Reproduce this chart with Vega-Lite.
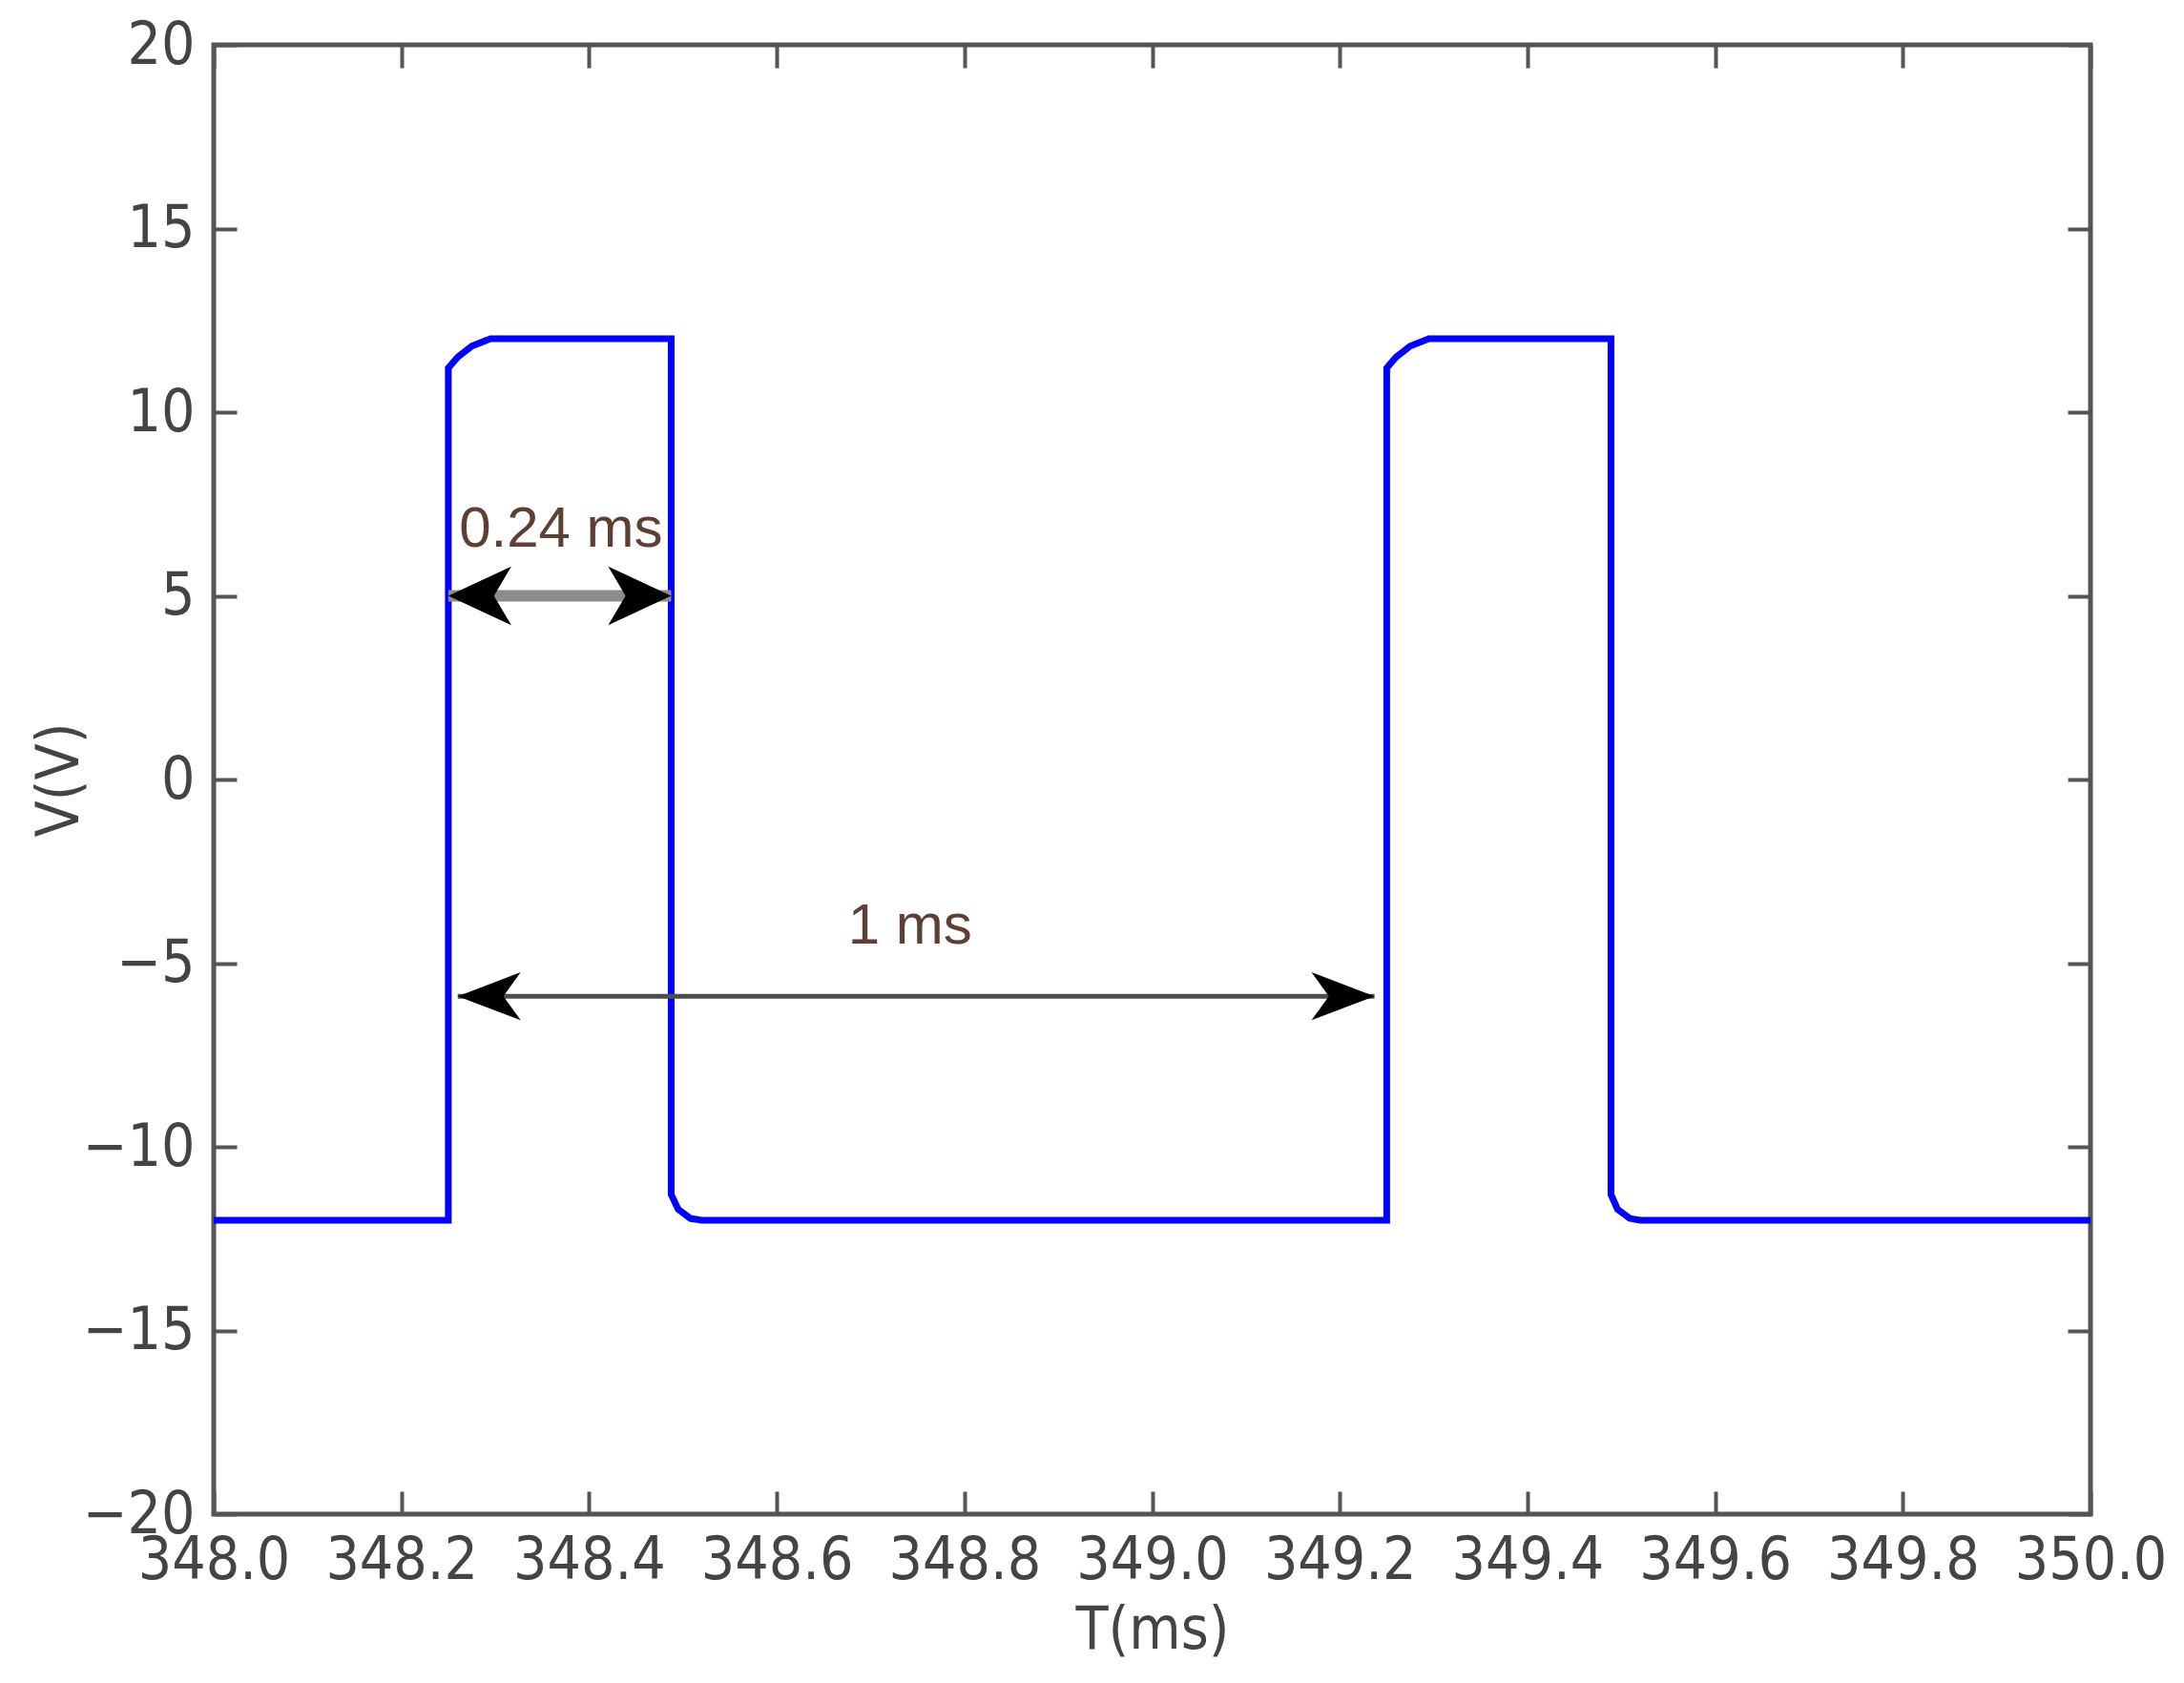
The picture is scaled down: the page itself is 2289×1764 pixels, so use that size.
{
  "$schema": "https://vega.github.io/schema/vega-lite/v6.json",
  "width": 1967,
  "height": 1540,
  "autosize": {"type": "none"},
  "padding": {"left": 224, "top": 47, "right": 98, "bottom": 177},
  "background": "white",
  "config": {
    "view": {"stroke": "#555555", "strokeWidth": 5},
    "axis": {
      "labelFont": "Liberation Sans Narrow, DejaVu Sans Condensed, Arial Narrow, sans-serif",
      "labelFontSize": 62,
      "labelColor": "#444444",
      "titleFont": "Liberation Sans Narrow, DejaVu Sans Condensed, Arial Narrow, sans-serif",
      "titleFontSize": 62,
      "titleColor": "#444444",
      "titleFontWeight": "normal",
      "domain": false,
      "grid": false,
      "tickColor": "#555555",
      "tickWidth": 4,
      "tickSize": -24,
      "labelFlush": false,
      "labelOverlap": false
    }
  },
  "datasets": {
    "wave": [
      {"i": 0, "t": 348.0, "v": -12},
      {"i": 1, "t": 348.25, "v": -12},
      {"i": 2, "t": 348.25, "v": 11.2},
      {"i": 3, "t": 348.26, "v": 11.5},
      {"i": 4, "t": 348.275, "v": 11.8},
      {"i": 5, "t": 348.295, "v": 12},
      {"i": 6, "t": 348.4875, "v": 12},
      {"i": 7, "t": 348.4875, "v": -11.3},
      {"i": 8, "t": 348.495, "v": -11.7},
      {"i": 9, "t": 348.508, "v": -11.95},
      {"i": 10, "t": 348.52, "v": -12},
      {"i": 11, "t": 349.25, "v": -12},
      {"i": 12, "t": 349.25, "v": 11.2},
      {"i": 13, "t": 349.26, "v": 11.5},
      {"i": 14, "t": 349.275, "v": 11.8},
      {"i": 15, "t": 349.295, "v": 12},
      {"i": 16, "t": 349.489, "v": 12},
      {"i": 17, "t": 349.489, "v": -11.3},
      {"i": 18, "t": 349.496, "v": -11.7},
      {"i": 19, "t": 349.509, "v": -11.95},
      {"i": 20, "t": 349.52, "v": -12},
      {"i": 21, "t": 350.0, "v": -12}
    ],
    "arrowA": [{"t1": 348.25, "t2": 348.4875, "v": 5}],
    "arrowB": [{"t1": 348.26, "t2": 349.237, "v": -5.9}],
    "heads": [
      {"t": 348.25, "v": 5, "head": "a-left"},
      {"t": 348.4875, "v": 5, "head": "a-right"},
      {"t": 348.26, "v": -5.9, "head": "b-left"},
      {"t": 349.237, "v": -5.9, "head": "b-right"}
    ],
    "notes": [
      {"t": 348.37, "v": 6.8, "label": "0.24 ms"},
      {"t": 348.742, "v": -4.0, "label": "1 ms"}
    ]
  },
  "resolve": {"axis": {"x": "independent", "y": "independent"}},
  "layer": [
    {
      "data": {"name": "wave"},
      "mark": {"type": "line", "color": "#0000ff", "strokeWidth": 7, "clip": true},
      "encoding": {
        "x": {
          "field": "t", "type": "quantitative",
          "scale": {"domain": [348, 350], "nice": false, "zero": false},
          "axis": {
            "orient": "bottom",
            "values": [348, 348.2, 348.4, 348.6, 348.8, 349, 349.2, 349.4, 349.6, 349.8, 350],
            "format": ".1f",
            "title": "T(ms)",
            "labelPadding": 42,
            "titlePadding": 12
          }
        },
        "y": {
          "field": "v", "type": "quantitative",
          "scale": {"domain": [-20, 20], "nice": false, "zero": false},
          "axis": {
            "orient": "left",
            "values": [-20, -15, -10, -5, 0, 5, 10, 15, 20],
            "format": "d",
            "title": "V(V)",
            "labelPadding": 44,
            "titleX": -162,
            "titleY": 770,
            "titleBaseline": "middle",
            "titleAlign": "center"
          }
        },
        "order": {"field": "i", "type": "quantitative"}
      }
    },
    {
      "data": {"name": "arrowA"},
      "mark": {"type": "rule", "color": "#8c8c8c", "strokeWidth": 12},
      "encoding": {
        "x": {"field": "t1", "type": "quantitative", "scale": {"domain": [348, 350], "nice": false, "zero": false}, "axis": null},
        "x2": {"field": "t2"},
        "y": {"field": "v", "type": "quantitative", "scale": {"domain": [-20, 20], "nice": false, "zero": false}, "axis": null}
      }
    },
    {
      "data": {"name": "arrowB"},
      "mark": {"type": "rule", "color": "#4d4d4d", "strokeWidth": 5},
      "encoding": {
        "x": {
          "field": "t1", "type": "quantitative",
          "scale": {"domain": [348, 350], "nice": false, "zero": false},
          "axis": {
            "orient": "top",
            "values": [348, 348.2, 348.4, 348.6, 348.8, 349, 349.2, 349.4, 349.6, 349.8, 350],
            "labels": false,
            "title": null
          }
        },
        "x2": {"field": "t2"},
        "y": {
          "field": "v", "type": "quantitative",
          "scale": {"domain": [-20, 20], "nice": false, "zero": false},
          "axis": {
            "orient": "right",
            "values": [-20, -15, -10, -5, 0, 5, 10, 15, 20],
            "labels": false,
            "title": null
          }
        }
      }
    },
    {
      "data": {"name": "heads"},
      "mark": {"type": "point", "filled": true, "color": "#000000", "opacity": 1, "size": 4356, "strokeWidth": 0},
      "encoding": {
        "x": {"field": "t", "type": "quantitative", "scale": {"domain": [348, 350], "nice": false, "zero": false}, "axis": null},
        "y": {"field": "v", "type": "quantitative", "scale": {"domain": [-20, 20], "nice": false, "zero": false}, "axis": null},
        "shape": {
          "field": "head", "type": "nominal", "legend": null,
          "scale": {
            "domain": ["a-left", "a-right", "b-left", "b-right"],
            "range": [
              "M0,0 L2,-0.93 L1.45,0 L2,0.93 Z",
              "M0,0 L-2,-0.93 L-1.45,0 L-2,0.93 Z",
              "M0,0 L2,-0.76 L1.45,0 L2,0.76 Z",
              "M0,0 L-2,-0.76 L-1.45,0 L-2,0.76 Z"
            ]
          }
        }
      }
    },
    {
      "data": {"name": "notes"},
      "mark": {"type": "text", "font": "Liberation Sans, Arial, sans-serif", "fontSize": 60, "color": "#5e3f33", "align": "center", "baseline": "middle"},
      "encoding": {
        "x": {"field": "t", "type": "quantitative", "scale": {"domain": [348, 350], "nice": false, "zero": false}, "axis": null},
        "y": {"field": "v", "type": "quantitative", "scale": {"domain": [-20, 20], "nice": false, "zero": false}, "axis": null},
        "text": {"field": "label", "type": "nominal"}
      }
    }
  ]
}
